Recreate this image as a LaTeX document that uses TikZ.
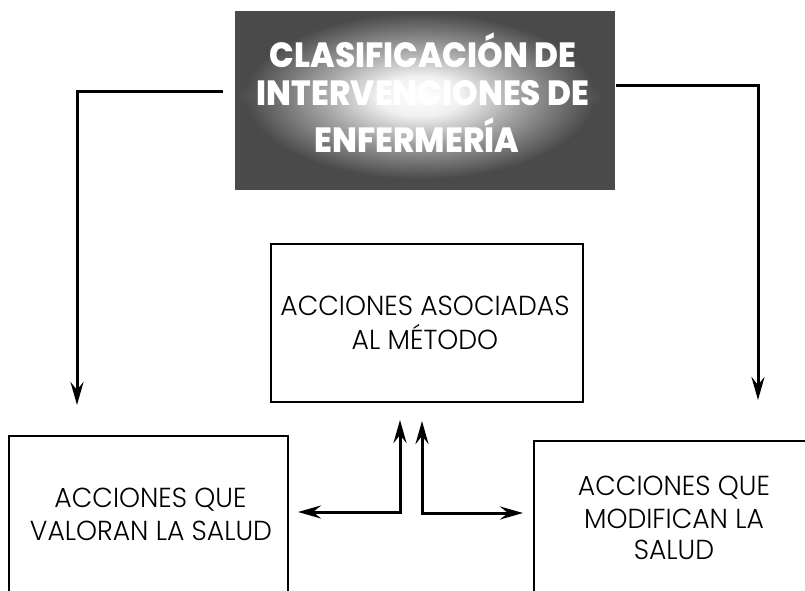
\documentclass[tikz,border=0pt]{standalone}
\usepackage{fontspec}
\setmainfont{Poppins}
\newfontfamily\titlefont[FakeStretch=0.93]{Poppins ExtraBold}
\newfontfamily\bodyfont[FakeStretch=0.97]{Poppins Light}
\usetikzlibrary{arrows.meta}
\definecolor{boxgray}{RGB}{74,74,74}
\pgfdeclareradialshading{glow}{\pgfpoint{0bp}{0bp}}{color(0bp)=(white); color(6bp)=(white!92!boxgray); color(14bp)=(white!50!boxgray); color(25bp)=(boxgray); color(50bp)=(boxgray)}
\pgfdeclareradialshading{streak}{\pgfpoint{0bp}{0bp}}{color(0bp)=(white!80!boxgray); color(8bp)=(white!45!boxgray); color(25bp)=(boxgray); color(50bp)=(boxgray)}
\tikzset{
  tip/.tip={Stealth[length=23pt,width=13pt,inset=8pt]},
  conn/.style={line width=3pt, -tip},
  conn2/.style={line width=3pt, tip-tip},
  plainbox/.style={draw=black, line width=1.2pt, rectangle, inner sep=0pt},
  titletext/.style={anchor=base, inner sep=0pt, text=white, font=\fontsize{35}{35}\selectfont\titlefont},
  bodytext/.style={anchor=base, inner sep=0pt, text=black, font=\fontsize{27.5}{27.5}\selectfont\bodyfont},
}
\begin{document}
\begin{tikzpicture}[x=1pt,y=-1pt]
\useasboundingbox (0,0) rectangle (805,591);
% title box
\node[rectangle, fill=boxgray, minimum width=380pt, minimum height=179pt, inner sep=0pt,
  path picture={
    \coordinate (gc) at ([shift={(-5,-4.5)}]path picture bounding box.center);
    \begin{scope}[blend mode=lighten]
    \shade[shading=streak] (gc) ellipse (184pt and 34pt);
    \shade[shading=streak] (gc) ellipse (48pt and 83pt);
    \shade[shading=glow] (gc) ellipse (175pt and 83pt);
    \end{scope}}]
  (title) at (425,100.5) {};
\node[titletext] (t1) at (423,68) {CLASIFICACIÓN DE};
\node[titletext] (t2) at (423,106) {INTERVENCIONES DE};
\node[titletext] (t3) at (417,152) {ENFERMERÍA};
% center box
\node[plainbox, minimum width=312pt, minimum height=158pt] (center) at (427,323) {};
\node[bodytext] (c1) at (425,315) {ACCIONES ASOCIADAS};
\node[bodytext] (c2) at (425,349) {AL MÉTODO};
% left box
\node[plainbox, minimum width=279pt, minimum height=200pt] (left) at (148.5,536) {};
\node[bodytext] (l1) at (150.5,507) {ACCIONES QUE};
\node[bodytext] (l2) at (151,540) {VALORAN LA SALUD};
% right box
\node[plainbox, minimum width=300pt, minimum height=200pt] (right) at (684,541) {};
\node[bodytext] (r1) at (674,495) {ACCIONES QUE};
\node[bodytext] (r2) at (674,528) {MODIFICAN LA};
\node[bodytext] (r3) at (674,559) {SALUD};
% connector coordinates
\coordinate (la) at (223,92);
\coordinate (lc) at (77,92);
\coordinate (lb) at (77,405);
\coordinate (ra) at (616,86);
\coordinate (rc) at (758,86);
\coordinate (rb) at (758,400);
\coordinate (m1a) at (298,512);
\coordinate (m1c) at (400,512);
\coordinate (m1b) at (400,420);
\coordinate (m2a) at (422,421);
\coordinate (m2c) at (422,513);
\coordinate (m2b) at (523,513);
\draw[conn] (la) -- (lc) -- (lb);
\draw[conn] (ra) -- (rc) -- (rb);
\draw[conn2] (m1a) -- (m1c) -- (m1b);
\draw[conn2] (m2a) -- (m2c) -- (m2b);
\end{tikzpicture}
\end{document}
